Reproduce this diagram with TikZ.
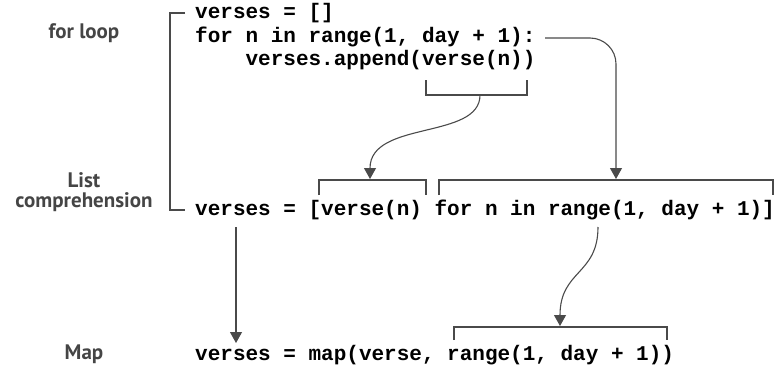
\documentclass[tikz,border=0pt]{standalone}
\usepackage{fontspec}
\setmonofont{Liberation Mono}
\setsansfont{PT Sans}
\usetikzlibrary{arrows.meta}
\definecolor{lc}{HTML}{4A4A4A}
\definecolor{lab}{HTML}{454545}
\begin{document}
\begin{tikzpicture}[x=1pt,y=-1pt,
  code/.style={anchor=base west, inner sep=0pt, font=\ttfamily\bfseries\fontsize{21}{24}\selectfont},
  lbl/.style={anchor=base, inner sep=0pt, text=lab, align=center, font=\sffamily\bfseries\fontsize{21}{20}\selectfont},
  conn/.style={draw=lc, line width=1.1pt, -{Triangle[width=12pt,length=11pt]}},
  brk/.style={draw=lc, line width=1.1pt}]
\useasboundingbox (0,0) rectangle (783,369);
% labels
\node[lbl] (lfor) at (84,39) {for loop};
\node[lbl] (llist) at (84,207) {List\\comprehension};
\node[lbl] (lmap) at (84,359) {Map};
% code
\node[code] (l1) at (195,19) {verses = []};
\node[code] (l2) at (195,42) {for n in range(1, day + 1):};
\node[code] (l3) at (245.4,65) {verses.append(verse(n))};
\node[code] (l4) at (195,215) {verses = [verse(n) for n in range(1, day + 1)]};
\node[code] (l5) at (195,360) {verses = map(verse, range(1, day + 1))};
% brackets
\draw[brk] (185,13) -- (170,13) -- (170,210) -- (185,210);
\draw[brk] (426,80) -- (426,95) -- (527,95) -- (527,80);
\draw[brk] (319,195) -- (319,180) -- (426,180) -- (426,195);
\draw[brk] (439,195) -- (439,180) -- (773,180) -- (773,195);
\draw[brk] (454,340) -- (454,327) -- (667,327) -- (667,340);
% connector end points
\coordinate (a1s) at (480,95);
\coordinate (a1e) at (370,179);
\coordinate (a2s) at (545,38);
\coordinate (a2c) at (616,38);
\coordinate (a2e) at (616,179);
\coordinate (a3s) at (598,227);
\coordinate (a3e) at (560,326);
\coordinate (a4s) at (236,227);
\coordinate (a4e) at (236,343);
% connectors
\draw[conn] (a1s) .. controls (480,140) and (370,120) .. (a1e);
\draw[conn, rounded corners=26pt] (a2s) -- (a2c) -- (a2e);
\draw[conn] (a3s) .. controls (598,275) and (560,270) .. (a3e);
\draw[conn] (a4s) -- (a4e);
\end{tikzpicture}
\end{document}
